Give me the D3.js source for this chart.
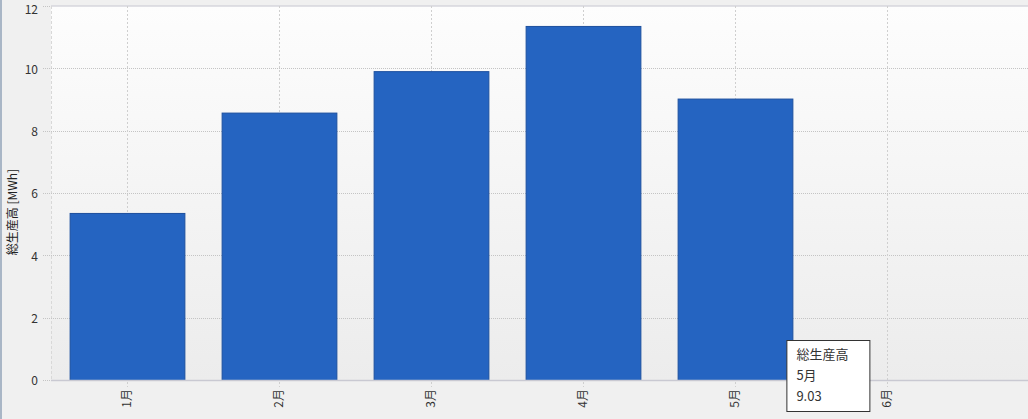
<!DOCTYPE html>
<html><head><meta charset="utf-8">
<script src="https://cdn.jsdelivr.net/npm/d3@7"></script>
<style>
html,body{margin:0;padding:0;background:#f0f0f0;overflow:hidden;}
svg{display:block;font-family:"Noto Sans CJK JP","Noto Sans",sans-serif;}
</style></head><body>
<svg id="c" width="1028" height="419"></svg>
<script>
const categories = ["1月","2月","3月","4月","5月","6月"];
const values = [5.36, 8.58, 9.91, 11.36, 9.03, null];
const yTicks = [0, 2, 4, 6, 8, 10, 12];
const yTitle = "総生産高 [MWh]";
const seriesName = "総生産高";
const tooltipIndex = 4;

const svg = d3.select("#c");
const W = 1028, H = 419;

const x = d3.scaleBand().domain(categories).range([51, 963]).paddingInner(0.245).paddingOuter(0.1225);
const xc = d3.scaleBand().domain(categories).range([51, 963]);
const y = d3.scaleLinear().domain([0, 12]).range([380, 6]);

svg.append("rect").attr("width", W).attr("height", H).attr("fill", "#f0f0f0");
svg.append("rect").attr("x", 0).attr("y", 0).attr("width", 2).attr("height", H).attr("fill", "#a9b6c6");

const defs = svg.append("defs");
const g = defs.append("linearGradient").attr("id", "bg").attr("x1", 0).attr("y1", 0).attr("x2", 0).attr("y2", 1);
g.append("stop").attr("offset", "0%").attr("stop-color", "#fdfdfd");
g.append("stop").attr("offset", "100%").attr("stop-color", "#ececec");
svg.append("rect").attr("x", 51).attr("y", y(12)).attr("width", W - 51 + 5).attr("height", y(0) - y(12)).attr("fill", "url(#bg)");

svg.append("line").attr("x1", 51).attr("x2", W).attr("y1", y(12)).attr("y2", y(12)).attr("stroke", "#d6d6dc").attr("stroke-width", 1.5);
svg.append("line").attr("x1", 51.5).attr("x2", 51.5).attr("y1", y(12)).attr("y2", y(0)).attr("stroke", "#d8d8d8").attr("stroke-dasharray", "3,2");

svg.append("g").selectAll("line").data(yTicks.filter(d => d > 0 && d < 12)).join("line")
  .attr("x1", 43).attr("x2", W).attr("y1", d => Math.round(y(d)) + 0.5).attr("y2", d => Math.round(y(d)) + 0.5)
  .attr("stroke", "#c4c4c4").attr("stroke-dasharray", "1,1");
svg.append("g").selectAll("line").data([0, 12]).join("line")
  .attr("x1", 43).attr("x2", 51).attr("y1", d => Math.round(y(d)) + 0.5).attr("y2", d => Math.round(y(d)) + 0.5)
  .attr("stroke", "#c4c4c4").attr("stroke-dasharray", "1,1");

svg.append("g").selectAll("line").data(categories).join("line")
  .attr("x1", d => Math.round(xc(d) + xc.bandwidth() / 2) + 0.5).attr("x2", d => Math.round(xc(d) + xc.bandwidth() / 2) + 0.5)
  .attr("y1", y(12)).attr("y2", y(0) + 7)
  .attr("stroke", "#cfcfcf").attr("stroke-dasharray", "2,2");

svg.append("g").selectAll("rect").data(categories.map((c, i) => ({c, v: values[i]})).filter(d => d.v != null)).join("rect")
  .attr("x", d => x(d.c) + 0.5).attr("y", d => y(d.v) + 0.5)
  .attr("width", x.bandwidth()).attr("height", d => y(0) - y(d.v))
  .attr("fill", "#2564c1").attr("stroke", "#1c4f9e").attr("stroke-width", 1);

svg.append("line").attr("x1", 51).attr("x2", W).attr("y1", 380.5).attr("y2", 380.5).attr("stroke", "#c9c9d2").attr("stroke-width", 1.5);

svg.append("g").selectAll("text").data(yTicks).join("text")
  .attr("x", 38).attr("y", d => Math.max(y(d) + 1, 9.5)).attr("dy", "0.35em").attr("text-anchor", "end")
  .attr("font-size", 12).attr("fill", "#333").text(d => d);

svg.append("g").selectAll("text").data(categories).join("text")
  .attr("transform", d => `translate(${xc(d) + xc.bandwidth() / 2 + 4},389) rotate(-90)`)
  .attr("text-anchor", "end").attr("font-size", 12).attr("fill", "#333").text(d => d);

svg.append("text").attr("transform", "translate(17,212) rotate(-90)").attr("text-anchor", "middle")
  .attr("font-size", 12).attr("fill", "#222").text(yTitle);

const tx = x(categories[tooltipIndex]) + x.bandwidth() - 6, ty = 340;
const tt = svg.append("g").attr("transform", `translate(${tx},${ty})`);
tt.append("rect").attr("x", 0.5).attr("y", 0.5).attr("width", 83).attr("height", 71).attr("fill", "#fff").attr("stroke", "#333");
[seriesName, categories[tooltipIndex], values[tooltipIndex].toFixed(2)].forEach((t, i) => {
  tt.append("text").attr("x", 10).attr("y", 19 + i * 21).attr("font-size", 13).attr("fill", "#333").text(t);
});
</script>
</body></html>
